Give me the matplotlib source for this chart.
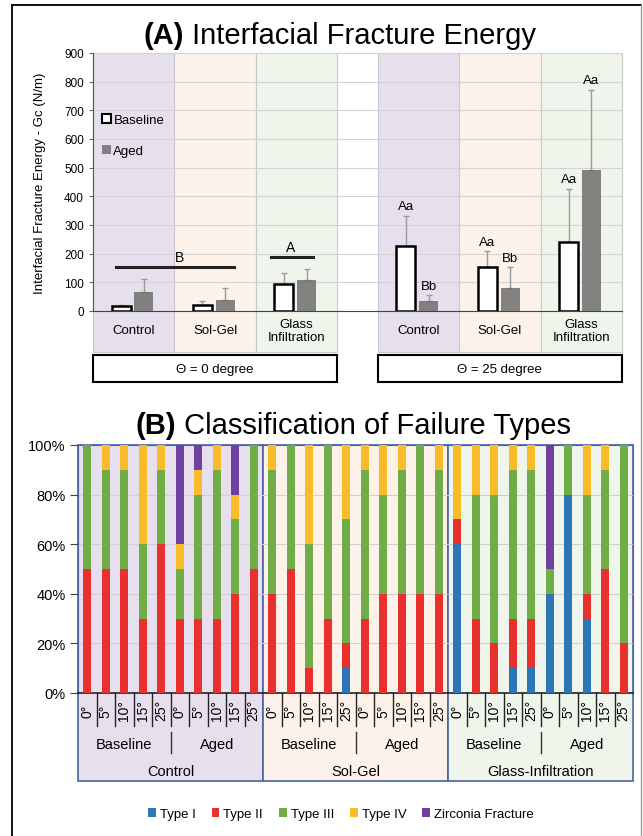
import numpy as np
import matplotlib
matplotlib.use('Agg')
import matplotlib.pyplot as plt
from matplotlib.patches import Rectangle, Patch
from matplotlib.lines import Line2D
import matplotlib.transforms as mtrans

plt.rcParams['font.family'] = ['Liberation Sans', 'DejaVu Sans']

# ---- panel A data : fracture energy Gc (N/m)
groups = ['Control', 'Sol-Gel', 'Glass\nInfiltration']
angles = ['\u0398 = 0 degree', '\u0398 = 25 degree']
baseline_mean = [17, 20, 94, 228, 154, 242]
baseline_err = [5, 14, 37, 104, 54, 185]
aged_mean = [65, 39, 109, 35, 79, 492]
aged_err = [45, 40, 37, 21, 73, 280]
baseline_tag = ['', '', '', 'Aa', 'Aa', 'Aa']
aged_tag = ['', '', '', 'Bb', 'Bb', 'Aa']

# ---- panel B data : failure type share (%) per bar
degrees = ['0\u00b0', '5\u00b0', '10\u00b0', '15\u00b0', '25\u00b0']
conditions = ['Baseline', 'Aged']
treatments = ['Control', 'Sol-Gel', 'Glass-Infiltration']
type_i = [0, 0, 0, 0, 0,   0, 0, 0, 0, 0,
          0, 0, 0, 0, 10,  0, 0, 0, 0, 0,
          60, 0, 0, 10, 10,  40, 80, 30, 0, 0]
type_ii = [50, 50, 50, 30, 60,  30, 30, 30, 40, 50,
           40, 50, 10, 30, 10,  30, 40, 40, 40, 40,
           10, 30, 20, 20, 20,  0, 0, 10, 50, 20]
type_iii = [50, 40, 40, 30, 30,  20, 50, 60, 30, 50,
            50, 50, 50, 70, 50,  60, 40, 50, 60, 50,
            0, 50, 60, 60, 60,  10, 20, 40, 40, 80]
type_iv = [0, 10, 10, 40, 10,  10, 10, 10, 10, 0,
           10, 0, 40, 0, 30,  10, 20, 10, 0, 10,
           30, 20, 20, 10, 10,  0, 0, 20, 10, 0]
zirconia = [0, 0, 0, 0, 0,  40, 10, 0, 20, 0,
            0, 0, 0, 0, 0,  0, 0, 0, 0, 0,
            0, 0, 0, 0, 0,  50, 0, 0, 0, 0]
type_names = ['Type I', 'Type II', 'Type III', 'Type IV', 'Zirconia Fracture']
type_colors = ['#2e75b6', '#e8302f', '#70ad47', '#f8bb2a', '#7040a0']

bg_colors = ['#e6e0ee', '#fcf2ea', '#f0f5ec']

W, H = 643, 837
fig = plt.figure(figsize=(W / 100, H / 100), dpi=100)

def box(x0, y0, x1, y1):
    # pixel box (top-left origin) -> figure fraction rect
    return [x0 / W, 1 - y1 / H, (x1 - x0) / W, (y1 - y0) / H]

# outer frame
fig.add_artist(Line2D([12 / W, 12 / W], [0, 1 - 6 / H], color='black', lw=1.3))
fig.add_artist(Line2D([12 / W, 641 / W], [1 - 6 / H, 1 - 6 / H], color='black', lw=1.3))
fig.add_artist(Line2D([641 / W, 641 / W], [0, 1 - 6 / H], color='#999999', lw=1))

# ================= panel A =================
axA = fig.add_axes(box(93, 54, 622, 312))
xpos = np.array([0, 1, 2, 3.5, 4.5, 5.5])
tr = mtrans.blended_transform_factory(axA.transData, axA.transAxes)
for i, x in enumerate(xpos):
    axA.add_patch(Rectangle((x - 0.5, -0.159), 1, 1.159, transform=tr, clip_on=False,
                            facecolor=bg_colors[i % 3], edgecolor='#c8c8c8', lw=0.8, zorder=0))
    axA.text(x, -0.075, groups[i % 3], transform=tr, ha='center', va='center',
             fontsize=9.5, linespacing=1.15)
for k, (x0, x1) in enumerate([(-0.5, 2.5), (3.0, 6.0)]):
    axA.add_patch(Rectangle((x0, -0.275), x1 - x0, 0.103, transform=tr, clip_on=False,
                            facecolor='white', edgecolor='black', lw=1.5))
    axA.text((x0 + x1) / 2, -0.223, angles[k], transform=tr, ha='center', va='center', fontsize=9.5)

for y in range(100, 901, 100):
    axA.axhline(y, color='#d4d4d4', lw=0.8, zorder=0.5)

off_b, off_a, bw = -0.155, 0.125, 0.235
axA.bar(xpos + off_b, baseline_mean, bw, facecolor='white', edgecolor='black', lw=1.8, zorder=3)
axA.bar(xpos + off_a, aged_mean, bw, color='#6a6a6a', alpha=0.82, lw=0, zorder=3)
axA.errorbar(xpos + off_b, baseline_mean, yerr=[np.zeros(6), baseline_err], fmt='none',
             ecolor='#9a9a9a', elinewidth=1, capsize=2.5, zorder=2)
axA.errorbar(xpos + off_a, aged_mean, yerr=[np.zeros(6), aged_err], fmt='none',
             ecolor='#9a9a9a', elinewidth=1, capsize=2.5, zorder=2)
for i in range(6):
    if baseline_tag[i]:
        axA.text(xpos[i] + off_b, baseline_mean[i] + baseline_err[i] + 12, baseline_tag[i],
                 ha='center', va='bottom', fontsize=9.5)
    if aged_tag[i]:
        axA.text(xpos[i] + off_a, aged_mean[i] + aged_err[i] + 12, aged_tag[i],
                 ha='center', va='bottom', fontsize=9.5)

# significance groupings at 0 degree
axA.plot([-0.22, 1.23], [154, 154], color='#222222', lw=2.2, zorder=4)
axA.text(0.56, 165, 'B', ha='center', va='bottom', fontsize=10)
axA.plot([1.69, 2.20], [188, 188], color='#222222', lw=2.2, zorder=4)
axA.text(1.93, 200, 'A', ha='center', va='bottom', fontsize=10)

axA.set_xlim(-0.5, 6.0)
axA.set_ylim(0, 900)
axA.set_yticks(range(0, 901, 100))
axA.set_xticks([])
axA.tick_params(axis='y', labelsize=8.5, length=3, direction='out', color='#666666')
for s in ['top', 'right']:
    axA.spines[s].set_visible(False)
axA.spines['left'].set_color('#555555')
axA.spines['bottom'].set_color('#444444')
axA.set_ylabel('Interfacial Fracture Energy - Gc (N/m)', fontsize=9.5, labelpad=13)

leg = axA.legend(handles=[Patch(facecolor='white', edgecolor='black', lw=1.5),
                          Patch(facecolor='#6a6a6a', alpha=0.82)],
                 labels=['Baseline', 'Aged'], loc='upper left', bbox_to_anchor=(0.0, 0.8),
                 frameon=False, fontsize=9.5, handlelength=0.7, handleheight=0.7,
                 handletextpad=0.15, labelspacing=1.4, borderaxespad=0.3)

fig.text(184 / W, 1 - 36 / H, '(A)', fontsize=21, fontweight='bold', ha='right', va='center')
fig.text(184 / W, 1 - 36 / H, ' Interfacial Fracture Energy', fontsize=21, ha='left', va='center')

# ================= panel B =================
axB = fig.add_axes(box(78, 446, 633, 694))
n = len(type_ii)
x = np.arange(n)
trB = mtrans.blended_transform_factory(axB.transData, axB.transAxes)
tbl_bot = -0.355
for g in range(3):
    axB.add_patch(Rectangle((g * 10 - 0.5, tbl_bot), 10, 1 - tbl_bot, transform=trB, clip_on=False,
                            facecolor=bg_colors[g], edgecolor='#4a62a0', lw=1.2, zorder=0))
    axB.text(g * 10 + 4.5, -0.315, treatments[g], transform=trB, ha='center', va='center', fontsize=10.5)
    for c in range(2):
        axB.text(g * 10 + c * 5 + 2, -0.205, conditions[c], transform=trB,
                 ha='center', va='center', fontsize=10.5)
    axB.plot([g * 10 + 4.5] * 2, [-0.157, -0.24], transform=trB, clip_on=False,
             color='#333333', lw=1)
for k in range(n):
    axB.text(k, -0.068, degrees[k % 5], transform=trB, rotation=90, ha='center', va='center',
             fontsize=10)
    if k < n - 1 and (k + 1) % 10 != 0:
        axB.plot([k + 0.5] * 2, [0, -0.135], transform=trB, clip_on=False, color='#222222', lw=1)

for y in range(20, 100, 20):
    axB.axhline(y, color='#d0d0d0', lw=0.8, zorder=0.5)

bottom = np.zeros(n)
for vals, name, col in zip([type_i, type_ii, type_iii, type_iv, zirconia], type_names, type_colors):
    axB.bar(x, vals, 0.45, bottom=bottom, color=col, label=name, lw=0, zorder=3)
    bottom += np.array(vals)

axB.set_xlim(-0.5, n - 0.5)
axB.set_ylim(0, 100)
axB.set_yticks(range(0, 101, 20))
axB.set_yticklabels([f'{v}%' for v in range(0, 101, 20)])
axB.set_xticks([])
axB.tick_params(axis='y', labelsize=10.5, length=6, direction='out', pad=3, color='#444444')
for s in ['top', 'right', 'left']:
    axB.spines[s].set_color('#4a62a0')
axB.spines['bottom'].set_color('#222222')
axB.spines['bottom'].set_linewidth(1.2)

fig.legend(*axB.get_legend_handles_labels(), loc='center', bbox_to_anchor=(341 / W, 1 - 815 / H),
           ncol=5, frameon=False, fontsize=9.5, handlelength=0.6, handleheight=0.6,
           handletextpad=0.3, columnspacing=1.2)

fig.text(176 / W, 1 - 426 / H, '(B)', fontsize=21, fontweight='bold', ha='right', va='center')
fig.text(176 / W, 1 - 426 / H, ' Classification of Failure Types', fontsize=21, ha='left', va='center')

fig.savefig('out.png', dpi=100)
